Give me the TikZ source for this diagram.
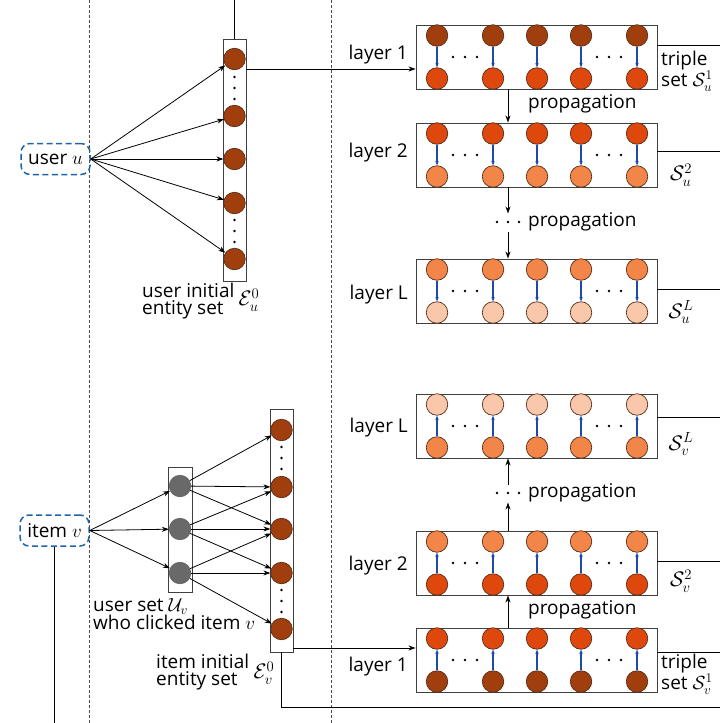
\RequirePackage{fix-cm}
\documentclass[tikz,border=0pt]{standalone}
\usepackage{fontspec}
\setmainfont{Open Sans}
\usetikzlibrary{arrows.meta,calc}
\definecolor{cbrown}{RGB}{160,62,14}
\definecolor{cred}{RGB}{222,72,12}
\definecolor{corange}{RGB}{242,134,72}
\definecolor{cpeach}{RGB}{249,200,170}
\definecolor{cgray}{RGB}{105,105,105}
\definecolor{cblue}{RGB}{30,75,170}
\definecolor{cdash}{RGB}{30,100,170}
\definecolor{cedge}{RGB}{90,45,25}
\begin{document}
\begin{tikzpicture}[x=1pt,y=-1pt,
  ent/.style={circle,draw=cedge,line width=0.7pt,minimum size=21.5pt,inner sep=0pt},
  box/.style={draw=black!75,line width=0.9pt,inner sep=0pt},
  arr/.style={-{Stealth[length=7pt,width=5pt]},line width=0.8pt},
  barr/.style={-{Stealth[length=4.5pt,width=3.5pt]},draw=cblue,line width=1.1pt},
  lbl/.style={font=\fontsize{19}{17.5}\selectfont,inner sep=0pt},
  mlbl/.style={font=\fontsize{21}{18}\selectfont,inner sep=0pt},
  sep/.style={dash pattern=on 3pt off 2pt,line width=0.8pt,black!70},
  tag/.style={draw=cdash,dash pattern=on 6pt off 3.5pt,line width=1.5pt,rounded corners=9pt,minimum width=69pt,minimum height=31pt,inner sep=0pt,font=\fontsize{19}{17.5}\selectfont}
]
\useasboundingbox (0,0) rectangle (720,723);
\coordinate (redge) at (720,0);
\coordinate (pu) at (508,0);
% separators
\coordinate (s1t) at (89,0); \coordinate (s1b) at (89,723);
\coordinate (s2t) at (331,0); \coordinate (s2b) at (331,723);
\draw[sep] (s1t) -- (s1b);
\draw[sep] (s2t) -- (s2b);

% ---------- layers ----------
\foreach \n/\yc/\ct/\cb in {u1/57/cbrown/cred,u2/155/cred/corange,uL/291/corange/cpeach,vL/426/cpeach/corange,v2/563/corange/cred,v1/660/cred/cbrown}{
  \node[box,minimum width=241pt,minimum height=64pt] (\n) at (536.5,\yc) {};
  \foreach \i/\x in {1/437,2/493,3/537,4/581,5/637}{
    \node[ent,fill=\ct] (\n-t-\i) at (\x,\yc-21.5) {};
    \node[ent,fill=\cb] (\n-b-\i) at (\x,\yc+21.5) {};
  }
  \foreach \dx in {453,465,477,597,609,621}{\fill (\dx,\yc) circle (1.4pt);}
}
\foreach \n in {u1,u2,uL}{\foreach \i in {1,...,5}{\draw[barr] (\n-t-\i) -- (\n-b-\i);}}
\foreach \n in {vL,v2,v1}{\foreach \i in {1,...,5}{\draw[barr] (\n-b-\i) -- (\n-t-\i);}}

\node[lbl,anchor=east] (lu1) at (408,55) {layer 1};
\node[lbl,anchor=east] (lu2) at (408,153) {layer 2};
\node[lbl,anchor=east] (luL) at (408,295) {layer L};
\node[lbl,anchor=east] (lvL) at (408,428) {layer L};
\node[lbl,anchor=east] (lv2) at (408,566) {layer 2};
\node[lbl,anchor=east] (lv1) at (408,667) {layer 1};

% right lines
\draw[line width=0.8pt] ([yshift=12pt]u1.east) -- ([yshift=12pt]u1.east -| redge);
\draw[line width=0.8pt] ([yshift=4pt]u2.east) -- ([yshift=4pt]u2.east -| redge);
\draw[line width=0.8pt] ([yshift=2pt]uL.east) -- ([yshift=2pt]uL.east -| redge);
\draw[line width=0.8pt] ([yshift=9pt]vL.east) -- ([yshift=9pt]vL.east -| redge);
\draw[line width=0.8pt] ([yshift=2pt]v2.east) -- ([yshift=2pt]v2.east -| redge);
\draw[line width=0.8pt] ([yshift=8pt]v1.east) -- ([yshift=8pt]v1.east -| redge);

% right labels
\node[lbl,anchor=west,align=left] (tsu) at (661,71) {triple\\set $\mathcal{S}_u^1$};
\node[mlbl] (su2) at (681,175) {$\mathcal{S}_u^2$};
\node[mlbl] (suL) at (681,312) {$\mathcal{S}_u^L$};
\node[mlbl] (svL) at (681,444) {$\mathcal{S}_v^L$};
\node[mlbl] (sv2) at (681,581) {$\mathcal{S}_v^2$};
\node[lbl,anchor=west,align=left] (tsv) at (661,674) {triple\\set $\mathcal{S}_v^1$};

% propagation
\draw[arr] (u1.south -| pu) -- (u2.north -| pu);
\node[lbl,anchor=west] (pr1) at (528,104) {propagation};
\draw[arr] (u2.south -| pu) -- ++(0,26);
\draw[arr] ([yshift=27pt]uL.north -| pu) -- (uL.north -| pu);
\foreach \dx in {497,508,519}{\fill (\dx,222) circle (1.4pt);}
\node[lbl,anchor=west] (pr2) at (528,222) {propagation};

\draw[arr] (v2.north -| pu) -- ++(0,-28);
\draw[arr] ([yshift=-27pt]vL.south -| pu) -- (vL.south -| pu);
\foreach \dx in {497,508,519}{\fill (\dx,493) circle (1.4pt);}
\node[lbl,anchor=west] (pr3) at (528,493) {propagation};
\draw[arr] (v1.north -| pu) -- (v2.south -| pu);
\node[lbl,anchor=west] (pr4) at (528,610) {propagation};

% ---------- user side ----------
\node[tag] (user) at (55.5,159) {user $u$};
\node[box,minimum width=23pt,minimum height=242pt] (ucol) at (234.5,160) {};
\foreach \i/\y in {1/59,2/116,3/159,4/203,5/259}{
  \node[ent,fill=cbrown] (uc\i) at (234.5,\y) {};
  \draw[arr] (user.east) -- (uc\i);
}
\foreach \y in {77,88,99,220,231,242}{\fill (234.5,\y) circle (1.4pt);}
\coordinate (ut) at (234.5,0);
\draw[line width=0.8pt] (ucol.north) -- (ut);
\coordinate (u1in) at ([yshift=-12pt]u1.west);
\draw[arr] (ucol.east |- u1in) -- (u1in);
\node[lbl,anchor=west,align=left] (ulab) at (142,301) {user initial\\entity set};
\node[mlbl] (eu) at (249,300) {$\mathcal{E}_u^0$};

% ---------- item side ----------
\node[tag] (item) at (54.5,530.5) {item $v$};
\coordinate (ib) at (54.5,723);
\draw[line width=0.8pt] (item.south) -- (ib);
\node[box,minimum width=24pt,minimum height=125pt] (gcol) at (180,529.5) {};
\foreach \i/\y in {1/486,2/529,3/573}{
  \node[ent,fill=cgray,draw=black!60] (g\i) at (180,\y) {};
  \draw[arr] (item.east) -- (g\i);
}
\node[box,minimum width=23pt,minimum height=243pt] (vcol) at (281.5,530.5) {};
\foreach \i/\y in {1/430,2/487,3/529,4/573,5/629}{
  \node[ent,fill=cbrown] (vc\i) at (281.5,\y) {};
}
\foreach \y in {447,458,469,590,601,612}{\fill (281.5,\y) circle (1.4pt);}
\foreach \a/\b in {1/1,1/2,1/3,2/2,2/3,2/4,3/3,3/4,3/5}{
  \draw[arr] (g\a) -- (vc\b);
}
\coordinate (v1in) at ([yshift=12pt]v1.west);
\draw[arr] (vcol.east |- v1in) -- (v1in);
\coordinate (rb) at (720,707);
\draw[line width=0.8pt] (vcol.south) |- (rb);
\node[lbl,anchor=west,align=left] (glab) at (93,614) {user set $\mathcal{U}_v$\\who clicked item $v$};
\node[lbl,anchor=west,align=left] (vlab) at (156,672) {item initial\\entity set};
\node[mlbl] (ev) at (264,673) {$\mathcal{E}_v^0$};
\end{tikzpicture}
\end{document}
